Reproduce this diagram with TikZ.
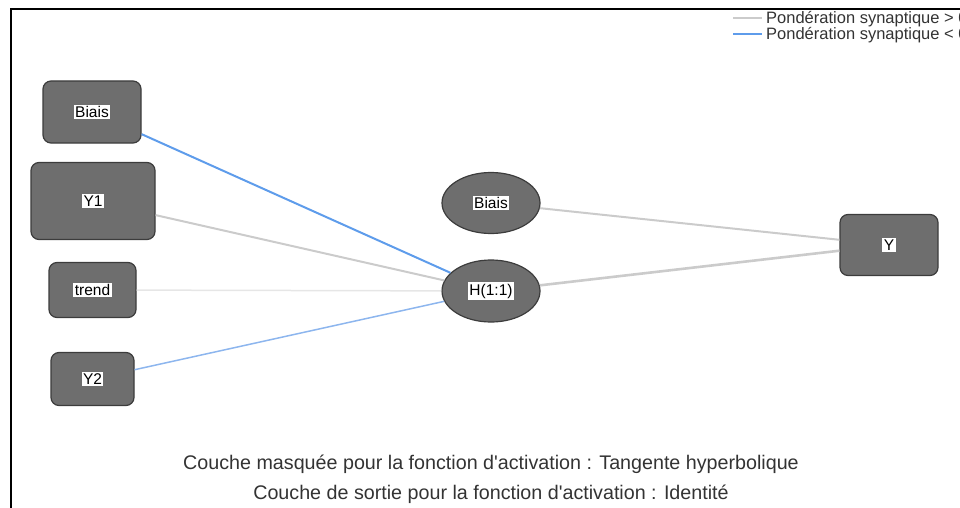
\documentclass[tikz,border=0pt]{standalone}
\usepackage{fontspec}
\setmainfont{Liberation Sans}
\usepackage{xcolor}
\usetikzlibrary{shapes.geometric}
\definecolor{nnfill}{HTML}{6E6E6E}
\definecolor{nndraw}{HTML}{3C3C3C}
\definecolor{wpos}{HTML}{CBCBCB}
\definecolor{wposlight}{HTML}{E6E6E6}
\definecolor{wneg}{HTML}{5E9CEB}
\definecolor{wneglight}{HTML}{8DB6EE}
\definecolor{captext}{HTML}{333333}
\newcommand{\nnlabel}[1]{{\setlength{\fboxsep}{1.5pt}\colorbox{white}{#1}}}
\tikzset{
  unit/.style={draw=nndraw, fill=nnfill, line width=1.2pt, rounded corners=8pt,
               font=\fontsize{15.5}{17}\selectfont, inner sep=0pt},
  hunit/.style={unit, ellipse, rounded corners=0pt},
  poslink/.style={draw=wpos, line width=2pt},
  neglink/.style={draw=wneg, line width=2pt},
  captn/.style={font=\fontsize{19.7}{22}\selectfont, text=captext},
  legtxt/.style={font=\fontsize{16.5}{18}\selectfont, text=captext, anchor=west, inner sep=0pt},
}
\begin{document}
\begin{tikzpicture}[x=1pt, y=-1pt]
  \useasboundingbox (0,0) rectangle (960,508);
  \clip (0,0) rectangle (960,508);
  % frame
  \draw[line width=2pt] (11,508) -- (11,9) -- (960,9);
  % input layer
  \node[unit, minimum width=98pt, minimum height=62pt] (bin) at (92,112) {\nnlabel{Biais}};
  \node[unit, minimum width=124pt, minimum height=77pt] (y1) at (93,201) {\nnlabel{Y1}};
  \node[unit, minimum width=87pt, minimum height=55pt] (trend) at (92.5,290) {\nnlabel{trend}};
  \node[unit, minimum width=83pt, minimum height=53pt] (y2) at (92.5,379) {\nnlabel{Y2}};
  % hidden layer
  \node[hunit, minimum width=98pt, minimum height=61pt] (bh) at (491,203) {\nnlabel{Biais}};
  \node[hunit, minimum width=98pt, minimum height=62pt] (h) at (491,291) {\nnlabel{H(1:1)}};
  % output layer
  \node[unit, minimum width=98pt, minimum height=61pt] (out) at (889,245) {\nnlabel{Y}};
  % synaptic weights
  \draw[neglink] (bin) -- (h);
  \draw[poslink] (y1) -- (h);
  \draw[poslink, draw=wposlight, line width=1.5pt] (trend) -- (h);
  \draw[neglink, draw=wneglight, line width=1.5pt] (y2) -- (h);
  \draw[poslink] (bh) -- (out);
  \draw[poslink, line width=2.6pt] (h) -- (out);
  % legend
  \coordinate (lpa) at (733,18);
  \coordinate (lpb) at (762,18);
  \coordinate (lna) at (733,34);
  \coordinate (lnb) at (762,34);
  \draw[poslink, line width=2.5pt] (lpa) -- (lpb);
  \draw[neglink, line width=2.5pt] (lna) -- (lnb);
  \node[legtxt] (lpos) at (766,19) {Pondération synaptique > 0};
  \node[legtxt] (lneg) at (766,35) {Pondération synaptique < 0};
  % captions
  \node[captn] (cap1) at (491,464) {Couche masquée pour la fonction d\textquotesingle activation : Tangente hyperbolique};
  \node[captn] (cap2) at (491,494) {Couche de sortie pour la fonction d\textquotesingle activation : Identité};
\end{tikzpicture}
\end{document}
